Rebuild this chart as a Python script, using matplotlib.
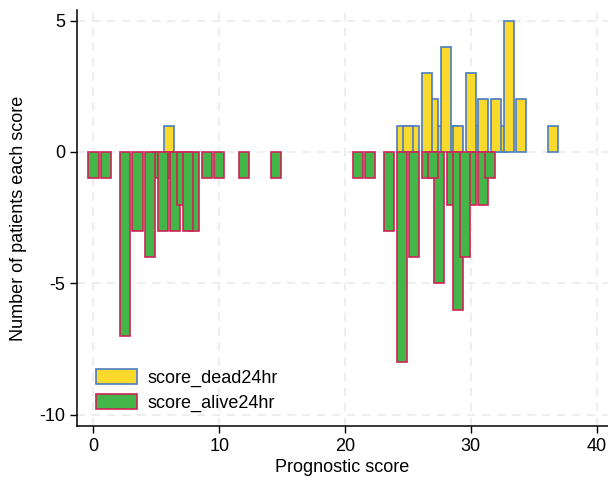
import matplotlib.pyplot as plt

#----- DATA -----

# scores and counts, listed in the order the bars are stacked (later = on top)
dead_score=[24.5,25.5,27.5,28.5,30.5,32.5,6,25,27,26.5,28,29,30,31,32,33,34,36.5]
dead_count=[1,1,1,1,1,1,1,1,2,3,4,1,3,2,2,5,2,1]

alive_score=[5,6,0,1,2.5,3.5,4.5,5.5,6.5,7,8,7.5,9,10,12,14.5,
             21,22,23.5,24.5,25.5,26.5,27.5,27,28.5,29,30,29.5,31,31.5]
alive_count=[-1,-1,-1,-1,-7,-3,-4,-3,-3,-2,-3,-3,-1,-1,-1,-1,
             -1,-1,-3,-8,-4,-1,-5,-1,-2,-6,-2,-4,-2,-1]

xticks=[0,10,20,30,40]
yticks=[-10,-5,0,5]

#----- PLOT -----

plt.rcParams['font.family']=['Liberation Sans','DejaVu Sans']
plt.rcParams['axes.unicode_minus']=False
fig=plt.figure(figsize=(6.08,4.8),dpi=100)
ax=fig.add_axes([77/608,54/480,531/608,416/480])

ax.bar(dead_score,dead_count,width=0.8,color='#f9d92c',edgecolor='#4a7cc4',
       linewidth=1.2,label='score_dead24hr',zorder=2)
ax.bar(alive_score,alive_count,width=0.8,color='#43b549',edgecolor='#cf2356',
       linewidth=1.2,label='score_alive24hr',zorder=2)

ax.set_xlim(-1.31,40.9)
ax.set_ylim(-10.42,5.4)
ax.set_xticks(xticks)
ax.set_yticks(yticks)
ax.tick_params(labelsize=13,length=5,width=1,direction='out')
ax.grid(True,color='#e9ebec',linestyle=(0,(5,4)),linewidth=1.2,zorder=0)
ax.set_axisbelow(True)
for s in ['top','right']:
    ax.spines[s].set_visible(False)
for s in ['left','bottom']:
    ax.spines[s].set_linewidth(1.1)

ax.set_xlabel('Prognostic score',fontsize=13,labelpad=3)
ax.set_ylabel('Number of patients each score',fontsize=13,labelpad=9)

ax.legend(loc='upper left',bbox_to_anchor=(0.035,0.137),frameon=False,
          fontsize=13,handlelength=2.3,handleheight=0.9,handletextpad=0.6,
          labelspacing=0.4,borderpad=0,borderaxespad=0)

fig.savefig('out.png',dpi=100)
